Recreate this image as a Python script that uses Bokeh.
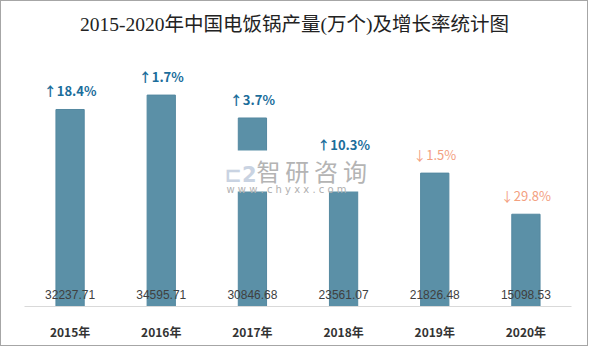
from bokeh.plotting import figure
from bokeh.models import ColumnDataSource, Range1d, Label, BoxAnnotation
from bokeh.core.properties import value
from bokeh.embed import file_html
from bokeh.resources import INLINE

title_text = "2015-2020年中国电饭锅产量(万个)及增长率统计图"
years = ["2015年", "2016年", "2017年", "2018年", "2019年", "2020年"]
output = [32237.71, 34595.71, 30846.68, 23561.07, 21826.48, 15098.53]
growth = ["↑18.4%", "↑1.7%", "↑3.7%", "↑10.3%", "↓1.5%", "↓29.8%"]
growth_up = [True, True, True, True, False, False]

UP = "#1b6d9b"
DOWN = "#f3a07f"

src = ColumnDataSource(dict(
    x=years, top=output,
    vlabel=[f"{v:.2f}" for v in output],
    glabel=growth,
    gcolor=[UP if u else DOWN for u in growth_up],
    gstyle=["bold" if u else "normal" for u in growth_up],
))

p = figure(x_range=years, y_range=Range1d(0, 49910), width=588, height=346,
           output_backend="svg", toolbar_location=None,
           min_border_left=23, min_border_right=18, min_border_top=0, min_border_bottom=41)
p.styles = {"border": "1px solid #a6a6a6"}

p.add_layout(Label(x=270, y=282, x_units="screen", y_units="screen", text=title_text,
                   text_align="center", text_baseline="middle",
                   text_font="'Liberation Serif', 'Noto Sans CJK SC'",
                   text_font_size="19.5px", text_color="#222222"))

p.vbar(x="x", top="top", width=0.31, source=src, fill_color="#5b90a7",
       line_color="#5488a0", line_width=1)

p.text(x="x", y=0, text="vlabel", source=src, text_align="center",
       text_baseline="middle", y_offset=-12, text_font=value("Liberation Sans"),
       text_font_size="12px", text_color="#404040")

p.text(x="x", y="top", text="glabel", source=src, text_align="center",
       text_baseline="bottom", y_offset=-9, text_font=value("Noto Sans CJK SC"),
       text_font_size="13px", text_color="gcolor", text_font_style="gstyle")

# watermark
p.add_layout(BoxAnnotation(left=200, right=344, top=156, bottom=115,
                           left_units="screen", right_units="screen",
                           top_units="screen", bottom_units="screen",
                           fill_color="white", fill_alpha=1, line_color=None))
p.add_layout(Label(x=200, y=120, x_units="screen", y_units="screen", text="⊏2",
                   text_font_size="21px", text_color="#c9d3e2", text_font_style="bold",
                   text_font="DejaVu Sans"))
p.add_layout(Label(x=232, y=119, x_units="screen", y_units="screen",
                   text="智\u2009研\u2009咨\u2009询",
                   text_font_size="24px", text_color="#b4b4b4",
                   text_font="Noto Sans CJK SC"))
p.add_layout(Label(x=202, y=112, x_units="screen", y_units="screen",
                   text="w w w . c h y x x . c o m",
                   text_font_size="10px", text_color="#b0b0b0", text_font="DejaVu Sans"))

p.yaxis.visible = False
p.xgrid.grid_line_color = None
p.ygrid.grid_line_color = None
p.outline_line_color = None
p.xaxis.axis_line_color = "#d9d9d9"
p.xaxis.major_tick_line_color = None
p.xaxis.minor_tick_line_color = None
p.xaxis.major_label_text_font = "Noto Sans CJK SC"
p.xaxis.major_label_text_font_style = "bold"
p.xaxis.major_label_text_font_size = "12px"
p.xaxis.major_label_text_color = "#333333"
p.xaxis.major_label_standoff = 10

open("out.html", "w").write(file_html(p, INLINE))
